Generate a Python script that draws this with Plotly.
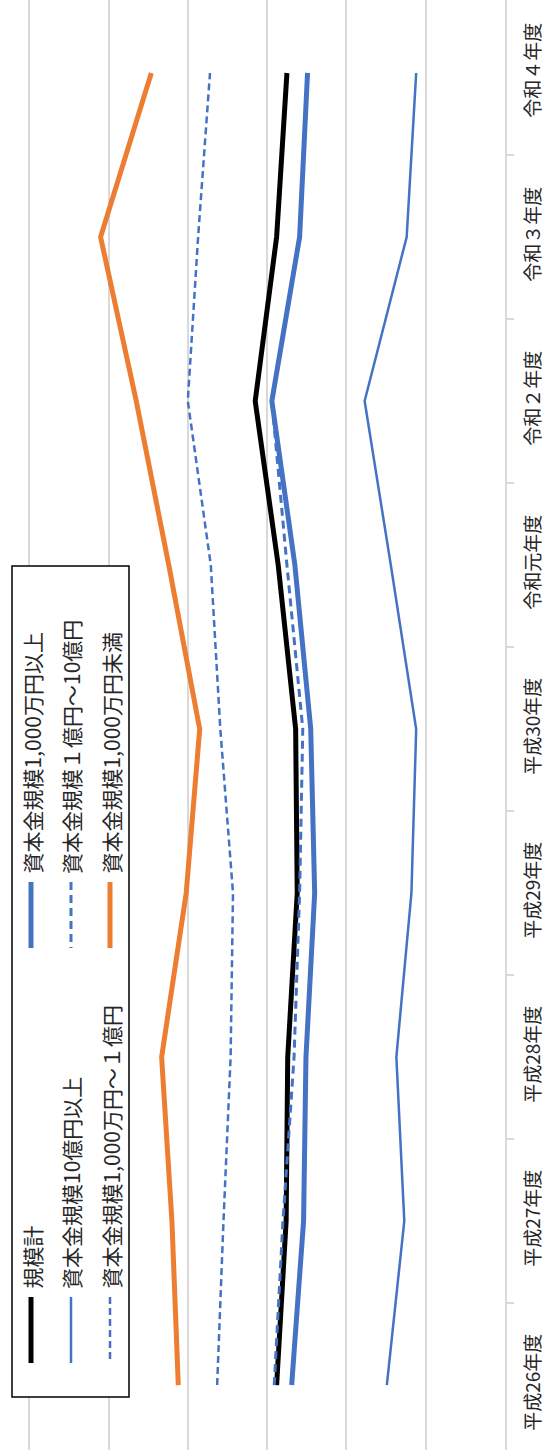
import plotly.graph_objects as go

# ---- data (value axis has no labels, gridline step = 1) ----
years = ["平成26年度", "平成27年度", "平成28年度", "平成29年度", "平成30年度",
         "令和元年度", "令和２年度", "令和３年度", "令和４年度"]

total = [2.88, 2.76, 2.74, 2.62, 2.64, 2.86, 3.15, 2.88, 2.75]           # 規模計
over_10m = [2.69, 2.54, 2.51, 2.40, 2.45, 2.65, 2.94, 2.59, 2.49]        # 資本金規模1,000万円以上
over_1b = [1.49, 1.27, 1.37, 1.18, 1.12, 1.44, 1.77, 1.24, 1.12]         # 資本金規模10億円以上
r100m_1b = [2.91, 2.80, 2.66, 2.59, 2.55, 2.75, 2.94, 2.59, 2.49]        # 資本金規模１億円～10億円
r10m_100m = [3.63, 3.55, 3.46, 3.43, 3.59, 3.71, 4.00, 3.87, 3.72]       # 資本金規模1,000万円～１億円
under_10m = [4.12, 4.20, 4.33, 4.02, 3.85, 4.24, 4.65, 5.10, 4.46]       # 資本金規模1,000万円未満

names = ["規模計", "資本金規模1,000万円以上", "資本金規模10億円以上",
         "資本金規模１億円～10億円", "資本金規模1,000万円～１億円", "資本金規模1,000万円未満"]

BLUE = "#4472C4"
ORANGE = "#ED7D31"
BLACK = "#000000"
GRID = "#D9D9D9"
FONT = "Noto Sans CJK JP"
TXT = "#262626"

series = [
    (names[0], total, BLACK, 5, "solid"),
    (names[1], over_10m, BLUE, 5, "solid"),
    (names[2], over_1b, BLUE, 2.5, "solid"),
    (names[3], r100m_1b, BLUE, 3, "8px,5px"),
    (names[4], r10m_100m, BLUE, 2.5, "7px,4px"),
    (names[5], under_10m, ORANGE, 5, "solid"),
]

fig = go.Figure()
for name, vals, color, width, dash in series:
    fig.add_trace(go.Scatter(
        x=vals, y=years, mode="lines", name=name,
        line=dict(color=color, width=width, dash=dash),
        showlegend=False, hoverinfo="skip",
    ))

W, H = 548, 1450
ML, MR = 0, 43
PW = W - ML - MR


def fx(x):
    return (x - ML) / PW


def fy(y):
    return 1 - y / H


# ---- legend drawn by hand (rotated) ----
shapes = [dict(type="rect", xref="paper", yref="paper",
               x0=fx(12), x1=fx(129), y0=fy(566), y1=fy(1397),
               line=dict(color=BLACK, width=1.5), fillcolor="white", layer="above")]
annotations = []
# (column x, sample y0, sample y1, text bottom y) per legend slot
slots = [(31, 1297, 1363, 1291), (31, 882, 948, 876),
         (71, 1297, 1363, 1291), (71, 882, 948, 876),
         (110, 1297, 1363, 1291), (110, 882, 948, 876)]
legend_order = [0, 1, 2, 3, 4, 5]
for slot, idx in zip(slots, legend_order):
    cx, s0, s1, tb = slot
    name, vals, color, width, dash = series[idx]
    shapes.append(dict(type="line", xref="paper", yref="paper",
                       x0=fx(cx), x1=fx(cx), y0=fy(s0), y1=fy(s1),
                       line=dict(color=color, width=width, dash=dash), layer="above"))
    annotations.append(dict(xref="paper", yref="paper", x=fx(cx), y=fy(tb),
                            text=name, textangle=-90, showarrow=False,
                            xanchor="center", yanchor="bottom",
                            font=dict(family=FONT, size=21, color=TXT)))

fig.update_layout(
    width=W, height=H,
    margin=dict(l=ML, r=MR, t=0, b=0, pad=0),
    paper_bgcolor="white", plot_bgcolor="white",
    shapes=shapes, annotations=annotations,
    showlegend=False,
    xaxis=dict(range=[PW / 79.3, 0], showticklabels=False, ticks="",
               showgrid=True, gridcolor=GRID, gridwidth=1.5, dtick=1, tick0=0,
               zeroline=False, showline=False, fixedrange=True),
    yaxis=dict(type="category", categoryorder="array", categoryarray=years,
               range=[-0.396, 8.445], side="right", showgrid=False,
               showline=True, linecolor=GRID, linewidth=1.5,
               ticks="outside", tickson="boundaries", ticklen=7, tickcolor=GRID, tickwidth=1.5,
               tickangle=-90, ticklabelstandoff=10, automargin=False,
               tickfont=dict(family=FONT, size=19, color=TXT), zeroline=False, fixedrange=True),
)

fig.write_html("out.html", config={"displayModeBar": False},
               post_script="document.body.style.margin='0';document.body.style.overflow='hidden';")
